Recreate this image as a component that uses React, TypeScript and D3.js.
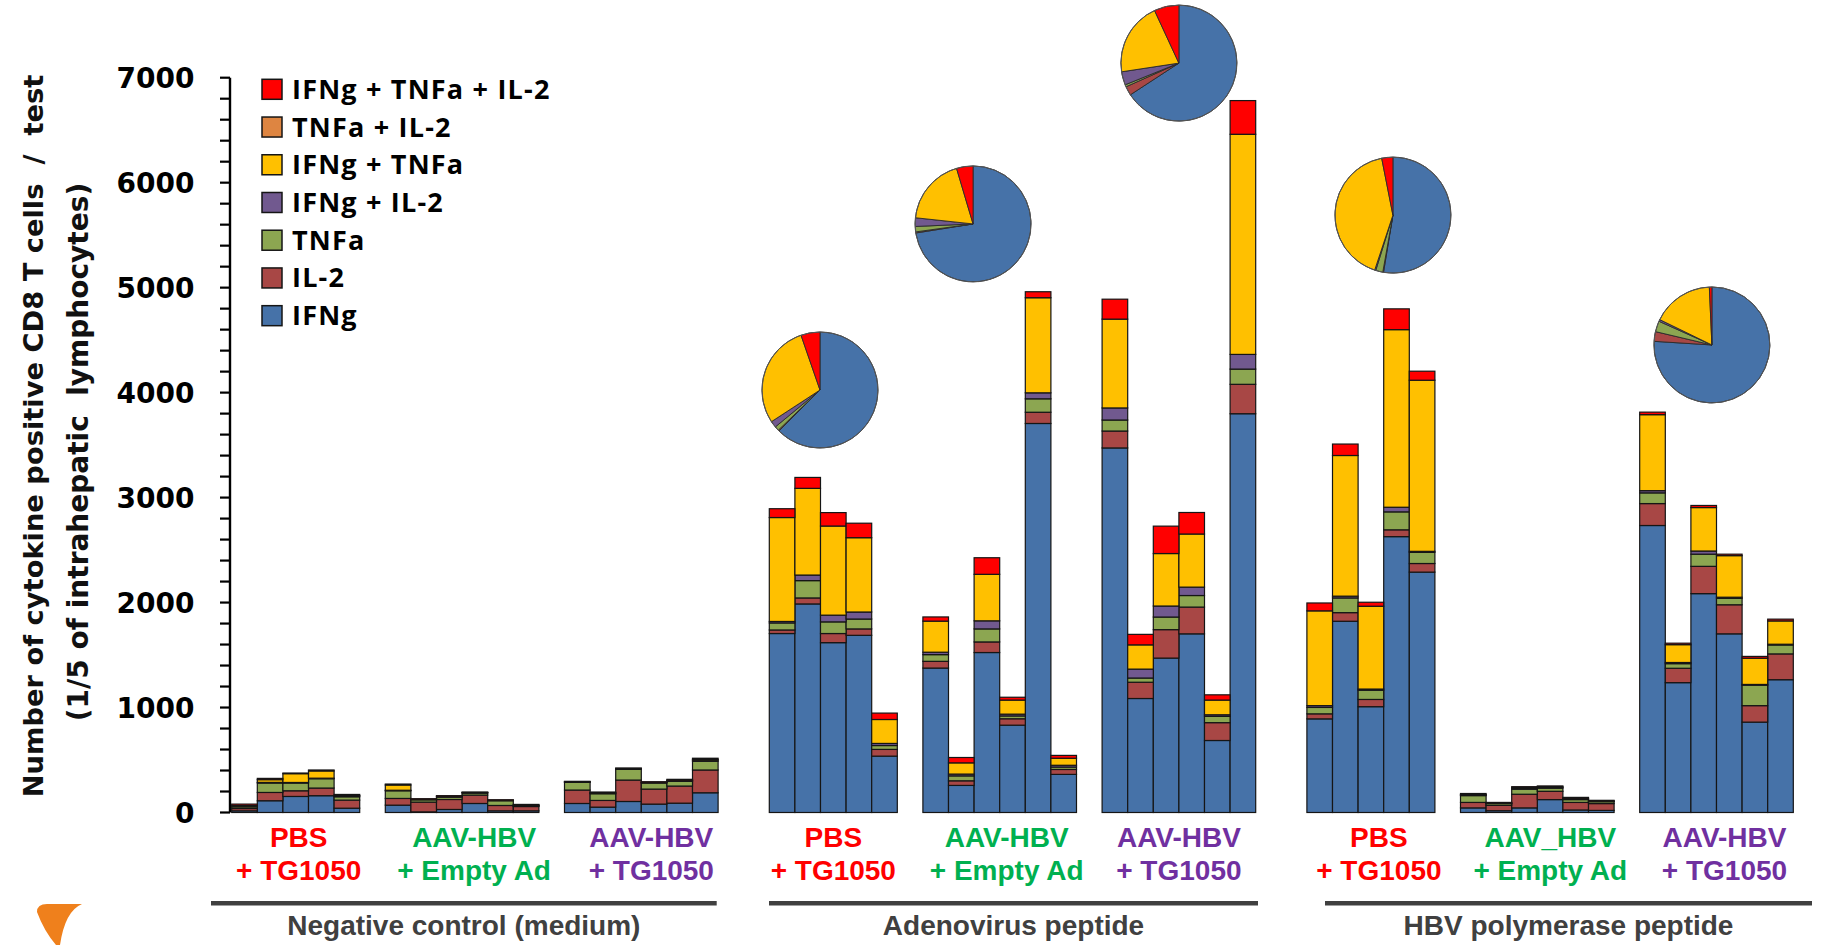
import React from "react";
import * as d3 from "d3";

// ---- data ----
const CATEGORIES = [
  "IFNg",
  "IL-2",
  "TNFa",
  "IFNg + IL-2",
  "IFNg + TNFa",
  "TNFa + IL-2",
  "IFNg + TNFa + IL-2",
];

const SECTIONS = ["Negative control (medium)", "Adenovirus peptide", "HBV polymerase peptide"];
const GROUP_SECTION = [0, 0, 0, 1, 1, 1, 2, 2, 2];
const GROUP_SIZES = [5, 6, 6, 5, 6, 6, 5, 6, 6];
const GROUP_LINE1 = ["PBS", "AAV-HBV", "AAV-HBV", "PBS", "AAV-HBV", "AAV-HBV", "PBS", "AAV_HBV", "AAV-HBV"];
const GROUP_LINE2 = ["+ TG1050", "+ Empty Ad", "+ TG1050", "+ TG1050", "+ Empty Ad", "+ TG1050", "+ TG1050", "+ Empty Ad", "+ TG1050"];

// one value per bar, 51 bars in group order
const IFNG = [
  16, 112, 153, 160, 41,
  70, 6, 29, 86, 16, 16,
  86, 51, 105, 80, 89, 188,
  1705, 1987, 1618, 1688, 537,
  1376, 258, 1524, 832, 3706, 363,
  3473, 1086, 1471, 1702, 686, 3799,
  892, 1822, 1008, 2628, 2290,
  44, 17, 44, 123, 24, 20,
  2734, 1237, 2085, 1702, 861, 1265,
];
const IL2 = [
  22, 79, 54, 73, 77,
  64, 93, 95, 80, 51, 41,
  128, 64, 204, 143, 163, 217,
  34, 57, 87, 61, 64,
  64, 44, 101, 61, 107, 47,
  161, 155, 271, 255, 170, 280,
  48, 82, 69, 65, 82,
  52, 51, 130, 79, 72, 65,
  209, 137, 260, 277, 157, 246,
];
const TNFA = [
  16, 90, 74, 89, 32,
  73, 22, 22, 19, 45, 5,
  73, 64, 102, 58, 45, 83,
  67, 165, 111, 94, 37,
  64, 47, 124, 27, 128, 23,
  105, 40, 120, 110, 60, 145,
  61, 140, 88, 171, 106,
  65, 17, 48, 30, 27, 18,
  102, 44, 116, 61, 195, 85,
];
const IFNG_IL2 = [
  6, 6, 5, 5, 8,
  5, 4, 8, 4, 4, 5,
  4, 6, 5, 5, 8, 10,
  14, 53, 64, 67, 20,
  23, 17, 77, 17, 57, 17,
  115, 85, 105, 80, 15, 140,
  17, 17, 11, 44, 10,
  6, 3, 8, 7, 7, 4,
  21, 11, 30, 11, 7, 7,
];
const IFNG_TNFA = [
  6, 26, 84, 69, 4,
  50, 2, 2, 2, 1, 4,
  2, 4, 3, 2, 3, 8,
  990, 826, 849, 708, 228,
  296, 107, 443, 134, 906, 67,
  846, 231, 500, 506, 140, 2097,
  903, 1340, 789, 1692, 1630,
  4, 3, 6, 6, 5, 4,
  724, 170, 414, 396, 250, 222,
];
const TNFA_IL2 = [
  0, 0, 0, 0, 0,
  0, 0, 0, 0, 0, 0,
  0, 0, 0, 0, 0, 0,
  0, 0, 0, 0, 0,
  0, 0, 0, 0, 0, 0,
  0, 0, 0, 0, 0, 0,
  0, 0, 0, 0, 0,
  0, 0, 0, 0, 0, 0,
  0, 0, 0, 0, 0, 0,
];
const TRIPLE = [
  14, 12, 6, 9, 10,
  9, 4, 4, 4, 4, 6,
  4, 6, 5, 5, 8, 11,
  84, 104, 128, 138, 61,
  40, 51, 158, 27, 57, 27,
  190, 100, 261, 205, 50, 321,
  75, 109, 38, 198, 86,
  10, 5, 10, 8, 9, 5,
  24, 14, 20, 14, 17, 17,
];
const SERIES = [IFNG, IL2, TNFA, IFNG_IL2, IFNG_TNFA, TNFA_IL2, TRIPLE];

// pie shares (%), same category order
const PIE_GROUPS = [3, 4, 5, 6, 8];
const PIE_A1 = [62.5, 0.3, 1.2, 1.8, 28.9, 0, 5.3];
const PIE_A2 = [72.5, 0.3, 1.5, 2.4, 18.7, 0, 4.6];
const PIE_A3 = [65.8, 2.5, 0.6, 3.7, 20.5, 0, 6.9];
const PIE_H1 = [52.6, 0.2, 2.0, 0.3, 41.8, 0, 3.1];
const PIE_H3 = [76.0, 2.7, 3.0, 0.5, 17.1, 0, 0.7];
const PIES = [PIE_A1, PIE_A2, PIE_A3, PIE_H1, PIE_H3];

const Y_MAX = 7000;

// ---- layout / style ----
const W = 1835;
const H = 945;
const COLORS = ["#4672A8", "#A84745", "#8CA651", "#71598F", "#FFC000", "#DE8541", "#FF0000"];
const GROUP_COLORS = ["#FF0000", "#00B050", "#7030A0", "#FF0000", "#00B050", "#7030A0", "#FF0000", "#00B050", "#7030A0"];
const LABEL_DX = [3, 12, 10, 0, 7, 0, 8, 13, 8];
// pie anchor: shift from group centre (in bar widths) and height in data units
const PIE_SHIFT = [-0.52, -1.04, 0, 0.86, -0.18];
const PIE_LEVEL = [4025, 5607, 7139, 5691, 4454];
const PIE_R = 58;
const SECTION_LINE = [
  [211, 716.7],
  [769, 1258],
  [1325, 1812],
];
const AXIS_X = 230;
const BAR_FONT = "'Liberation Sans', Arial, sans-serif";
const AXIS_FONT = "'DejaVu Sans', Verdana, sans-serif";
const LEGEND_FONT = "'Open Sans', Lato, sans-serif";

// slot keys: bars, one blank between groups, two blanks between sections
const slotKeys: string[] = [];
const barKeys: string[] = [];
const groupKeys: string[][] = [];
GROUP_SIZES.forEach((n, g) => {
  const keys: string[] = [];
  for (let i = 0; i < n; i++) {
    const k = `g${g}-b${i}`;
    keys.push(k);
    barKeys.push(k);
    slotKeys.push(k);
  }
  groupKeys.push(keys);
  if (g < GROUP_SIZES.length - 1) {
    slotKeys.push(`gap${g}`);
    if (GROUP_SECTION[g + 1] !== GROUP_SECTION[g]) slotKeys.push(`gap${g}b`);
  }
});

const x = d3.scaleBand<string>().domain(slotKeys).range([231.7, 1793.3]).padding(0);
const y = d3.scaleLinear().domain([0, Y_MAX]).range([812.5, 77.7]);

const rows = barKeys.map((k, i) => {
  const r: Record<string, number | string> = { key: k };
  CATEGORIES.forEach((c, j) => (r[c] = SERIES[j][i]));
  return r;
});
const stacked = d3.stack<any>().keys(CATEGORIES)(rows);

const groupCenter = (g: number) => {
  const keys = groupKeys[g];
  return ((x(keys[0]) as number) + (x(keys[keys.length - 1]) as number) + x.bandwidth()) / 2;
};

const pie = d3.pie<number>().sort(null).value((d) => d);
const arc = d3.arc<d3.PieArcDatum<number>>().innerRadius(0).outerRadius(PIE_R);

const App = () => {
  const ticks = d3.range(0, Y_MAX + 1, 200);
  return (
    <svg
      width={W}
      height={H}
      style={{ position: "absolute", left: 0, top: 0, display: "block", background: "#fff" }}
    >
      {/* y title */}
      <g fontFamily={AXIS_FONT} fontWeight="bold" fill="#111">
        <text transform="translate(43,436) rotate(-90)" textAnchor="middle" fontSize={27.3} xmlSpace="preserve">
          {"Number of cytokine positive CD8 T cells  /  test"}
        </text>
        <text transform="translate(88,452) rotate(-90)" textAnchor="middle" fontSize={28} xmlSpace="preserve">
          {"(1/5 of intrahepatic  lymphocytes)"}
        </text>
      </g>

      {/* axis */}
      <line x1={AXIS_X} x2={AXIS_X} y1={y(0)} y2={y(Y_MAX)} stroke="#000" strokeWidth={2.4} />
      {ticks.map((t) => (
        <line key={t} x1={AXIS_X - 10} x2={AXIS_X} y1={y(t)} y2={y(t)} stroke="#000" strokeWidth={2.2} />
      ))}
      {ticks
        .filter((t) => t % 1000 === 0)
        .map((t) => (
          <text
            key={"l" + t}
            x={194.5}
            y={y(t) + 10}
            textAnchor="end"
            fontFamily={AXIS_FONT}
            fontWeight="bold"
            fontSize={28}
            fill="#000"
          >
            {t}
          </text>
        ))}

      {/* bars */}
      {stacked.map((s, j) => (
        <g key={s.key} fill={COLORS[j]}>
          {s.map((d, i) =>
            d[1] - d[0] > 0 ? (
              <rect
                key={i}
                x={x(barKeys[i])}
                y={y(d[1])}
                width={x.bandwidth()}
                height={y(d[0]) - y(d[1])}
                stroke="#151515"
                strokeWidth={1.2}
              />
            ) : null
          )}
        </g>
      ))}

      {/* pies */}
      {PIES.map((p, k) => {
        const g = PIE_GROUPS[k];
        const cx = groupCenter(g) + PIE_SHIFT[k] * x.bandwidth();
        const cy = y(PIE_LEVEL[k]);
        return (
          <g key={k} transform={`translate(${cx},${cy})`}>
            {pie(p).map((a, j) =>
              a.value > 0 ? (
                <path key={j} d={arc(a) as string} fill={COLORS[j]} stroke="#2a2a2a" strokeWidth={0.9} />
              ) : null
            )}
            <circle r={PIE_R} fill="none" stroke="#555" strokeWidth={1} />
          </g>
        );
      })}

      {/* legend */}
      {CATEGORIES.slice()
        .reverse()
        .map((c, i) => {
          const j = CATEGORIES.length - 1 - i;
          const cy = 89.3 + i * 37.73;
          return (
            <g key={c}>
              <rect x={262} y={cy - 10} width={20} height={20} fill={COLORS[j]} stroke="#151515" strokeWidth={1.5} />
              <text
                x={292}
                y={cy + 9.5}
                fontFamily={LEGEND_FONT}
                fontWeight="bold"
                fontSize={27}
                letterSpacing={1.2}
                fill="#000"
              >
                {c}
              </text>
            </g>
          );
        })}

      {/* group labels */}
      {GROUP_SIZES.map((_, g) => {
        const cx = groupCenter(g) + LABEL_DX[g];
        return (
          <g key={g} fontFamily={BAR_FONT} fontWeight="bold" fontSize={28} fill={GROUP_COLORS[g]} textAnchor="middle">
            <text x={cx} y={846.7}>
              {GROUP_LINE1[g]}
            </text>
            <text x={cx} y={880}>
              {GROUP_LINE2[g]}
            </text>
          </g>
        );
      })}

      {/* section rules and names */}
      {SECTIONS.map((s, i) => {
        const [a, b] = SECTION_LINE[i];
        return (
          <g key={s}>
            <line x1={a} x2={b} y1={903.3} y2={903.3} stroke="#404040" strokeWidth={4.5} />
            <text
              x={(a + b) / 2}
              y={935}
              textAnchor="middle"
              fontFamily={BAR_FONT}
              fontWeight="bold"
              fontSize={28}
              fill="#404040"
            >
              {s}
            </text>
          </g>
        );
      })}

      {/* logo mark */}
      <path
        d="M37,912 Q37,904 47,904 L82,904 Q65,911 60,945 L56,945 Q44,931 37,912 Z"
        fill="#EF801C"
      />
    </svg>
  );
};

export default App;
